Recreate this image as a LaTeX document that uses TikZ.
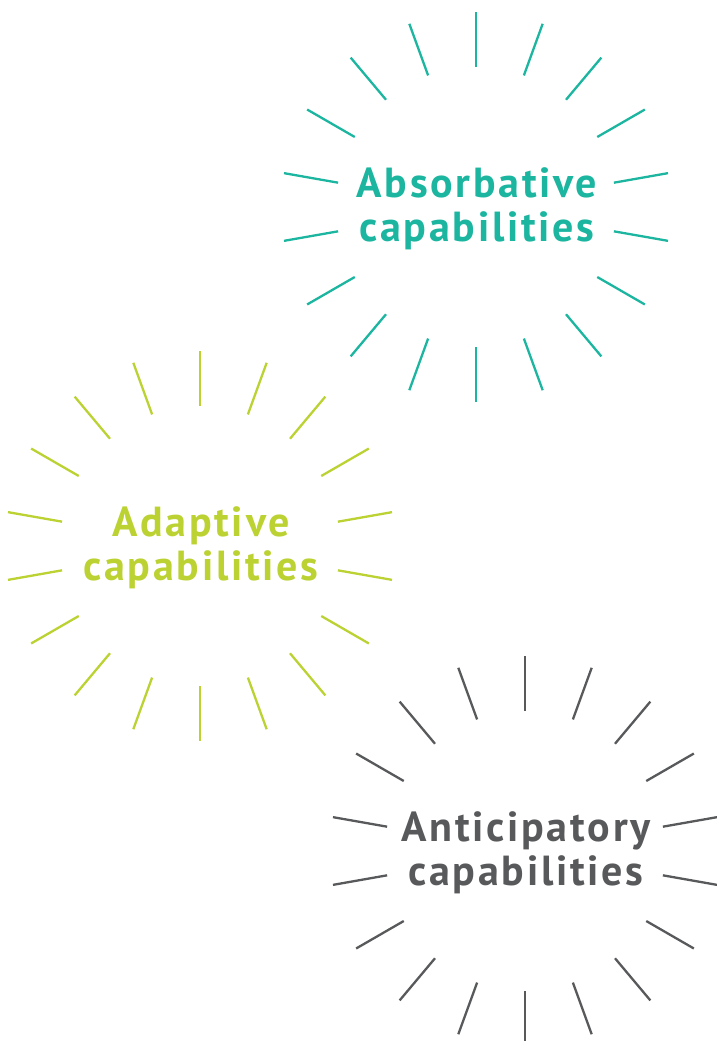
\documentclass[tikz,border=0pt]{standalone}
\usepackage{fontspec}
\setsansfont{PT Sans}[LetterSpace=6.5]
\usepackage{tikz}
\definecolor{absorbteal}{HTML}{1BB5A0}
\definecolor{adaptlime}{HTML}{BCD232}
\definecolor{anticgray}{HTML}{58595B}
\tikzset{ray/.style={line width=2.3pt},
  capab/.style={font=\sffamily\bfseries\fontsize{42}{44}\selectfont,align=center,inner sep=0pt}}

\begin{document}
\begin{tikzpicture}[x=1pt,y=-1pt]
        \useasboundingbox (0,0) rectangle (716,1041);
        \coordinate (absc) at (476,207);
        \coordinate (adaptc) at (200,546);
        \coordinate (antic) at (525,851);
        \node[capab,text=absorbteal] (abs) at (477,209) {Absorbative\\capabilities};
        \node[capab,text=adaptlime] (adapt) at (201,548) {Adaptive\\capabilities};
        \node[capab,text=anticgray] (anti) at (526,853) {Anticipatory\\capabilities};

        % rays round each label
        \foreach \a in {10,30,...,350} {
            \draw[ray,absorbteal] (absc) ++(\a:140) -- ++(\a:55);
            \draw[ray,adaptlime] (adaptc) ++(\a:140) -- ++(\a:55);
            \draw[ray,anticgray] (antic) ++(\a:140) -- ++(\a:55);
        }
    \end{tikzpicture}
\end{document}
